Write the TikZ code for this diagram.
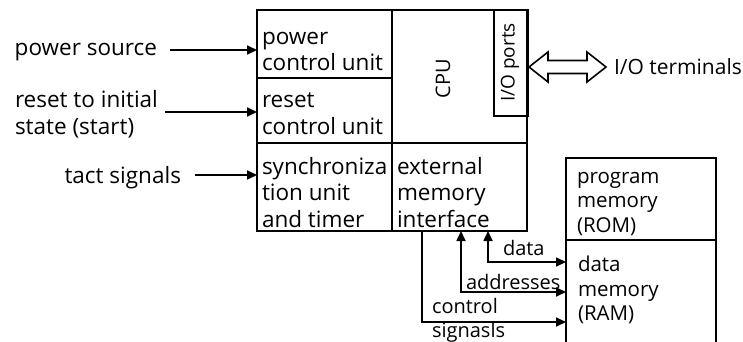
\documentclass[tikz,border=0pt]{standalone}
\usepackage{fontspec}
\setmainfont{Open Sans}
\usetikzlibrary{arrows.meta,calc}
\tikzset{
  cell/.style={draw, line width=1.7pt, anchor=north west, inner sep=0pt, outer sep=0pt},
  txt/.style={inner sep=0pt, outer sep=0pt, align=left, anchor=west, font=\fontsize{22.5}{26.5}\selectfont},
  memtxt/.style={txt, font=\fontsize{20.5}{24.5}\selectfont},
  bustxt/.style={txt, font=\fontsize{20}{24}\selectfont},
  rtxt/.style={inner sep=0pt, outer sep=0pt, rotate=90, font=\fontsize{20}{24}\selectfont},
  sig/.style={line width=1.7pt, -{Triangle[length=10pt,width=9pt]}},
  busarr/.style={line width=1.7pt, {Triangle[length=10pt,width=9pt]}-{Triangle[length=10pt,width=9pt]}},
}
\begin{document}
\begin{tikzpicture}[x=1pt,y=-1pt]
\useasboundingbox[fill=white] (0,0) rectangle (743,342);
% main block cells
\node[cell, minimum width=135pt, minimum height=68pt] (pcu) at (257,10) {};
\node[cell, minimum width=135pt, minimum height=65pt] (rcu) at (257,78) {};
\node[cell, minimum width=135pt, minimum height=88pt] (sync) at (257,143) {};
\node[cell, minimum width=135pt, minimum height=133pt] (cpu) at (392,10) {};
\node[cell, minimum width=34pt, minimum height=106pt] (io) at (494,10) {};
\node[cell, minimum width=135pt, minimum height=88pt] (emi) at (392,143) {};
% memory
\node[cell, minimum width=150pt, minimum height=82pt] (rom) at (566,158) {};
\node[cell, minimum width=150pt, minimum height=110pt] (ram) at (566,240) {};
% cell texts
\node[txt] (tpcu) at (262,51.5) {power\\control unit};
\node[txt] (trcu) at (262,113.5) {reset\\control unit};
\node[txt] (tsync) at (262,192.5) {synchroniza\\tion unit\\and timer};
\node[txt] (temi) at (397,192.5) {external\\memory\\interface};
\node[rtxt] (tcpu) at (443,79) {CPU};
\node[rtxt, font=\fontsize{19}{22}\selectfont] (tio) at (510,62.5) {I/O ports};
\node[memtxt] (trom) at (577,204) {program\\memory\\(ROM)};
\node[memtxt] (tram) at (578,290) {data\\memory\\(RAM)};
% left labels
\node[txt, anchor=base east] (lps) at (157,56) {power source};
\node[txt] (lrs) at (15,114) {reset to initial\\state (start)};
\node[txt, anchor=base east] (lts) at (181,183) {tact signals};
\coordinate (aps) at (170,50);
\coordinate (ars) at (165,112);
\coordinate (ats) at (195,175);
\draw[sig] (aps) -- (aps -| pcu.west);
\draw[sig] (ars) -- (ars -| rcu.west);
\draw[sig] (ats) -- (ats -| sync.west);
% I/O double arrow
\draw[line width=1.6pt, line join=miter] (529,67) -- (548,52) -- (548,60.5) -- (587,60.5) -- (587,52) -- (606,67) -- (587,82) -- (587,73.5) -- (548,73.5) -- (548,82) -- cycle;
\node[txt, font=\fontsize{21}{24}\selectfont] (lio) at (614,67) {I/O terminals};
% buses
\coordinate (dtop) at (488,231);
\coordinate (atop) at (461,231);
\coordinate (ctop) at (422,231);
\draw[busarr] (dtop) |- (ram.west |- 0,262);
\draw[busarr] (atop) |- (ram.west |- 0,292);
\draw[sig] (ctop) |- (ram.west |- 0,322);
\node[bustxt] (ldata) at (503,248) {data};
\node[bustxt] (laddr) at (466,282) {addresses};
\node[bustxt] (lctl) at (432,320) {control\\signasls};
\end{tikzpicture}
\end{document}
